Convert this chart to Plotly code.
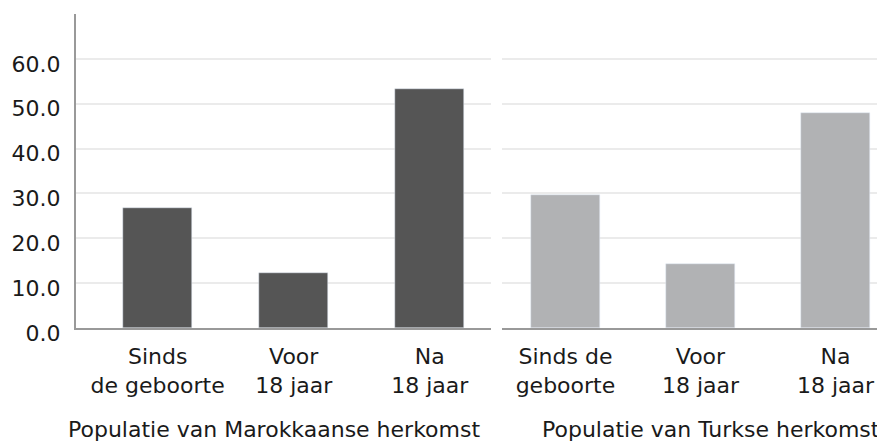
import plotly.graph_objects as go

categories_left = ["Sinds<br>de geboorte", "Voor<br>18 jaar", "Na<br>18 jaar"]
categories_right = ["Sinds de<br>geboorte", "Voor<br>18 jaar", "Na<br>18 jaar"]
values_marokkaans = [26.7, 12.2, 53.3]
values_turks = [29.6, 14.2, 48.0]
y_ticks = [0, 10, 20, 30, 40, 50, 60]
y_ticktext = ["0.0", "10.0", "20.0", "30.0", "40.0", "50.0", "60.0"]
title_left = "Populatie van Marokkaanse herkomst"
title_right = "Populatie van Turkse herkomst"

# page has an 8px body margin; figure is sized to fill the rest of the 885x441 window
OFF = 8
W, H = 885 - OFF, 441 - OFF
FONT = "DejaVu Sans"
FS = 22
TXT = "#1a1a1a"

fig = go.Figure()
fig.add_trace(go.Bar(x=categories_left, y=values_marokkaans, marker_color="#555555",
                     width=0.51, xaxis="x", yaxis="y", hoverinfo="skip"))
fig.add_trace(go.Bar(x=categories_right, y=values_turks, marker_color="#b1b2b4",
                     width=0.51, xaxis="x2", yaxis="y2", hoverinfo="skip"))

common_x = dict(showgrid=False, zeroline=False, showline=True, linecolor="#999999",
                linewidth=2, ticks="", ticklabelstandoff=8,
                tickfont=dict(family=FONT, size=FS, color=TXT),
                type="category", fixedrange=True)
top, base = 14 - OFF, 328 - OFF
fig.update_layout(
    width=W, height=H,
    margin=dict(l=0, r=0, t=top, b=H - base),
    paper_bgcolor="white", plot_bgcolor="white",
    showlegend=False,
    bargap=0,
    xaxis=dict(domain=[(76 - OFF) / W, (491 - OFF) / W], range=[-0.6, 2.45], **common_x),
    xaxis2=dict(domain=[(502 - OFF) / W, 1], range=[-0.47, 2.367], anchor="y2", **common_x),
    yaxis=dict(range=[0, 70], tickvals=y_ticks, ticktext=y_ticktext,
               showgrid=True, gridcolor="#ebebeb", gridwidth=2, zeroline=False,
               showline=True, linecolor="#999999", linewidth=2, ticks="",
               ticklabelstandoff=9, ticklabelshift=5,
               tickfont=dict(family=FONT, size=FS, color=TXT), fixedrange=True),
    yaxis2=dict(range=[0, 70], tickvals=y_ticks, showticklabels=False, anchor="x2",
                showgrid=True, gridcolor="#ebebeb", gridwidth=2, zeroline=False,
                showline=False, ticks="", fixedrange=True),
)
ph = base - top
ytitle = -(421 - base) / ph
fig.add_annotation(text=title_left, x=(274 - OFF) / W, y=ytitle, xref="paper", yref="paper",
                   showarrow=False, xanchor="center", yanchor="middle",
                   font=dict(family=FONT, size=FS, color=TXT))
fig.add_annotation(text=title_right, x=(711 - OFF) / W, y=ytitle, xref="paper", yref="paper",
                   showarrow=False, xanchor="center", yanchor="middle",
                   font=dict(family=FONT, size=FS, color=TXT))

fig.write_html("out.html")
